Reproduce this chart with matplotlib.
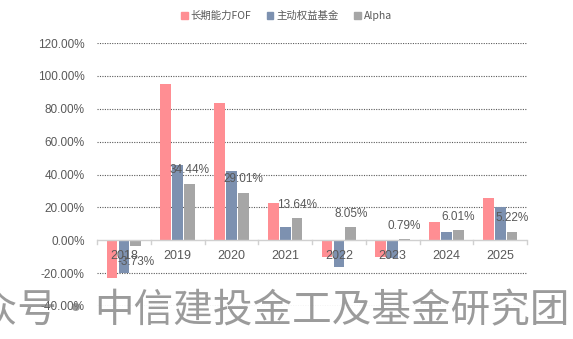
import matplotlib
matplotlib.use("Agg")
import matplotlib.pyplot as plt
from matplotlib.patches import Patch
import numpy as np

years = ["2018", "2019", "2020", "2021", "2022", "2023", "2024", "2025"]
fof = [-23.0, 95.3, 83.6, 22.6, -10.2, -10.2, 11.0, 26.0]
active = [-20.0, 45.5, 42.4, 7.9, -16.5, -10.5, 4.8, 20.2]
alpha = [-3.73, 34.44, 29.01, 13.64, 8.05, 0.79, 6.01, 5.22]
series_names = ["长期能力FOF", "主动权益基金", "Alpha"]
yticks = [-40, -20, 0, 20, 40, 60, 80, 100, 120]

colors = ["#FF8E93", "#7D91B0", "#A6A6A6"]
txt = "#595959"
cjk = ["Noto Sans CJK SC", "DejaVu Sans"]

fig = plt.figure(figsize=(5.73, 3.39), dpi=100)
ax = fig.add_axes([97/573, 33/339, 430/573, 263/339])
x = np.arange(len(years))
w = 0.2
off = 0.22
ax.bar(x - off, fof, w, color=colors[0], zorder=2)
ax.bar(x, active, w, color=colors[1], zorder=2)
ax.bar(x + off, alpha, w, color=colors[2], zorder=2)

ax.set_xlim(-0.5, len(years) - 0.5)
ax.set_ylim(-40, 120)
for s in ax.spines.values():
    s.set_visible(False)
for t in yticks:
    if t != 0:
        ax.axhline(t, color="#5a5a5a", lw=0.8, ls=(0, (1, 1.2)), zorder=1)
ax.axhline(0, color="#D0D0D0", lw=1.0, zorder=3)
for b in np.arange(-0.5, len(years), 1.0):
    ax.plot([b, b], [0, -2.5], color="#D0D0D0", lw=1.0, zorder=3, clip_on=False)

ax.set_xticks([])
ax.set_yticks(yticks)
ax.set_yticklabels([f"{v:.2f}%" for v in yticks], fontsize=8.5,
                   color=txt, family="Liberation Sans")
ax.tick_params(axis="y", length=0, pad=9)

for i, y in enumerate(years):
    ax.text(i, -9.8, y, ha="center", va="center", fontsize=9,
            color=txt, family="Liberation Sans", zorder=5)

for i, v in enumerate(alpha):
    dy = 9.5 if v >= 0 else -11.5
    ax.annotate(f"{v:.2f}%", (i + off, v), xytext=(0, dy),
                textcoords="offset points", ha="center", va="center",
                fontsize=8.5, color=txt, family="Liberation Sans", zorder=5)

handles = [Patch(color=c) for c in colors]
fig.legend(handles, series_names, loc="center", bbox_to_anchor=(0.5, 1 - 16/339),
           ncol=3, frameon=False, handlelength=0.6,
           handleheight=0.6, handletextpad=0.3, columnspacing=1.5,
           prop={"family": cjk, "size": 7.5}, labelcolor=txt)

wm = dict(va="center", fontsize=28.5, family=cjk, color="#7a7a7a",
          alpha=0.75, zorder=10)
wy = 1 - 311/339
fig.text(-61/573, wy, "公众号", ha="left", **wm)
fig.text(75/573, wy, "·", ha="center", **wm)
fig.text(94/573, wy, "中信建投金工及基金研究团队", ha="left", **wm)

fig.savefig("out.png", dpi=100)
